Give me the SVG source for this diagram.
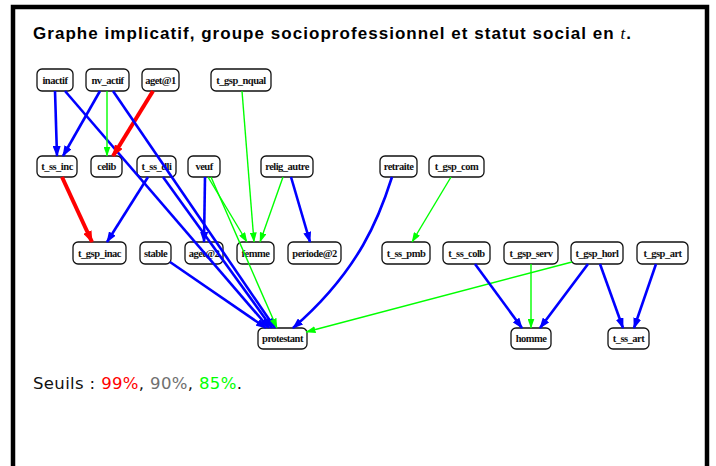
<svg xmlns="http://www.w3.org/2000/svg" width="716" height="466" viewBox="0 0 716 466">
<style>
.frame{fill:none;stroke:#000;stroke-width:4.5}
.title{font-family:"Liberation Sans",Arial,sans-serif;font-weight:bold;font-size:17px;fill:#000}
.legend{font-family:"DejaVu Sans","Liberation Sans",sans-serif;font-size:16.5px;fill:#111}
.node rect{fill:#fff;stroke:#111;stroke-width:1.3}
.node text{font-family:"Liberation Serif","Times New Roman",serif;font-weight:bold;font-size:10.5px;letter-spacing:-0.5px;fill:#111;text-anchor:middle}
.b{fill:none;stroke:#0000ff;stroke-width:2.6;marker-end:url(#ab)}
.r{fill:none;stroke:#ff0000;stroke-width:4;marker-end:url(#ar)}
.g{fill:none;stroke:#00ff00;stroke-width:1.4;marker-end:url(#ag)}
</style>
<defs>
<marker id="ab" markerUnits="userSpaceOnUse" markerWidth="11" markerHeight="8" refX="10" refY="4" orient="auto"><path d="M0,0 L11,4 L0,8 z" fill="#0000ff"/></marker>
<marker id="ar" markerUnits="userSpaceOnUse" markerWidth="12" markerHeight="9" refX="11" refY="4.5" orient="auto"><path d="M0,0 L12,4.5 L0,9 z" fill="#ff0000"/></marker>
<marker id="ag" markerUnits="userSpaceOnUse" markerWidth="10" markerHeight="7" refX="9.5" refY="3.5" orient="auto"><path d="M0,0 L10,3.5 L0,7 z" fill="#00ff00"/></marker>
</defs>
<rect x="0" y="0" width="716" height="466" fill="#fff"/>
<rect class="frame" x="13" y="7" width="694" height="520"/>
<text class="title" x="33" y="39" textLength="598" lengthAdjust="spacing">Graphe implicatif, groupe socioprofessionnel et statut social en <tspan font-family="'Liberation Serif',serif" font-style="italic" font-weight="normal">t</tspan>.</text>
<text class="legend" x="33" y="389" textLength="209" lengthAdjust="spacing">Seuils : <tspan fill="#ff0000">99%</tspan>, <tspan fill="#707070">90%</tspan>, <tspan fill="#00ff00">85%</tspan>.</text>

<g id="inactif" class="node"><rect x="37" y="69" width="36" height="22" rx="5"/><text x="55" y="83.5">inactif</text></g>
<g id="nv_actif" class="node"><rect x="86" y="69" width="43" height="22" rx="5"/><text x="107.5" y="83.5">nv_actif</text></g>
<g id="aget1" class="node"><rect x="142" y="69" width="37" height="22" rx="5"/><text x="160.5" y="83.5">aget@1</text></g>
<g id="t_gsp_nqual" class="node"><rect x="211" y="69" width="60" height="22" rx="5"/><text x="241" y="83.5">t_gsp_nqual</text></g>

<g id="t_ss_inc" class="node"><rect x="37" y="156" width="40" height="21" rx="5"/><text x="57" y="170">t_ss_inc</text></g>
<g id="celib" class="node"><rect x="91" y="156" width="31" height="21" rx="5"/><text x="106.5" y="170">celib</text></g>
<g id="t_ss_dli" class="node"><rect x="137" y="156" width="39" height="21" rx="5"/><text x="156.5" y="170">t_ss_dli</text></g>
<g id="veuf" class="node"><rect x="188" y="156" width="32" height="21" rx="5"/><text x="204" y="170">veuf</text></g>
<g id="relig_autre" class="node"><rect x="261" y="156" width="52" height="21" rx="5"/><text x="287" y="170">relig_autre</text></g>
<g id="retraite" class="node"><rect x="380" y="156" width="37" height="21" rx="5"/><text x="398.5" y="170">retraite</text></g>
<g id="t_gsp_com" class="node"><rect x="429" y="156" width="55" height="21" rx="5"/><text x="456.5" y="170">t_gsp_com</text></g>

<g id="t_gsp_inac" class="node"><rect x="73" y="242" width="53" height="22" rx="5"/><text x="99.5" y="256.5">t_gsp_inac</text></g>
<g id="stable" class="node"><rect x="140" y="242" width="31" height="22" rx="5"/><text x="155.5" y="256.5">stable</text></g>
<g id="aget2" class="node"><rect x="185" y="242" width="38" height="22" rx="5"/><text x="204" y="256.5">aget@2</text></g>
<g id="femme" class="node"><rect x="237" y="242" width="37" height="22" rx="5"/><text x="255.5" y="256.5">femme</text></g>
<g id="periode2" class="node"><rect x="288" y="242" width="53" height="22" rx="5"/><text x="314.5" y="256.5">periode@2</text></g>
<g id="t_ss_pmb" class="node"><rect x="382" y="242" width="48" height="22" rx="5"/><text x="406" y="256.5">t_ss_pmb</text></g>
<g id="t_ss_colb" class="node"><rect x="443" y="242" width="47" height="22" rx="5"/><text x="466.5" y="256.5">t_ss_colb</text></g>
<g id="t_gsp_serv" class="node"><rect x="504" y="242" width="54" height="22" rx="5"/><text x="531" y="256.5">t_gsp_serv</text></g>
<g id="t_gsp_horl" class="node"><rect x="571" y="242" width="52" height="22" rx="5"/><text x="597" y="256.5">t_gsp_horl</text></g>
<g id="t_gsp_art" class="node"><rect x="637" y="242" width="51" height="22" rx="5"/><text x="662.5" y="256.5">t_gsp_art</text></g>

<g id="protestant" class="node"><rect x="258" y="328" width="49" height="21" rx="5"/><text x="282.5" y="342">protestant</text></g>
<g id="homme" class="node"><rect x="511" y="328" width="40" height="21" rx="5"/><text x="531" y="342">homme</text></g>
<g id="t_ss_art" class="node"><rect x="608" y="328" width="41" height="21" rx="5"/><text x="628.5" y="342">t_ss_art</text></g>

<g id="connectors">
<path class="b" d="M55,91 L57,156"/>
<path class="b" d="M100,91 L63,156"/>
<path class="b" d="M65,91 L269,328"/>
<path class="g" d="M107,91 L107,156"/>
<path class="r" d="M153,91 L113,156"/>
<path class="b" d="M113,91 L275,328"/>
<path class="g" d="M242,91 L254,242"/>
<path class="r" d="M62,177 L92,242"/>
<path class="b" d="M148,177 L107,242"/>
<path class="b" d="M163,177 L272,328"/>
<path class="b" d="M205,177 L204,242"/>
<path class="g" d="M208,177 L247,242"/>
<path class="g" d="M211,177 L277,328"/>
<path class="g" d="M283,177 L260,242"/>
<path class="b" d="M291,177 L310,242"/>
<path class="b" d="M392,177 C380,215 360,270 293,328"/>
<path class="g" d="M451,177 L412,242"/>
<path class="g" d="M572,262 L306,332"/>
<path class="b" d="M475,264 L522,328"/>
<path class="g" d="M531,264 L531,328"/>
<path class="b" d="M588,264 L540,328"/>
<path class="b" d="M600,264 L623,328"/>
<path class="b" d="M656,264 L634,328"/>
<path class="b" d="M170,262 L266,328"/>
</g>
</svg>
